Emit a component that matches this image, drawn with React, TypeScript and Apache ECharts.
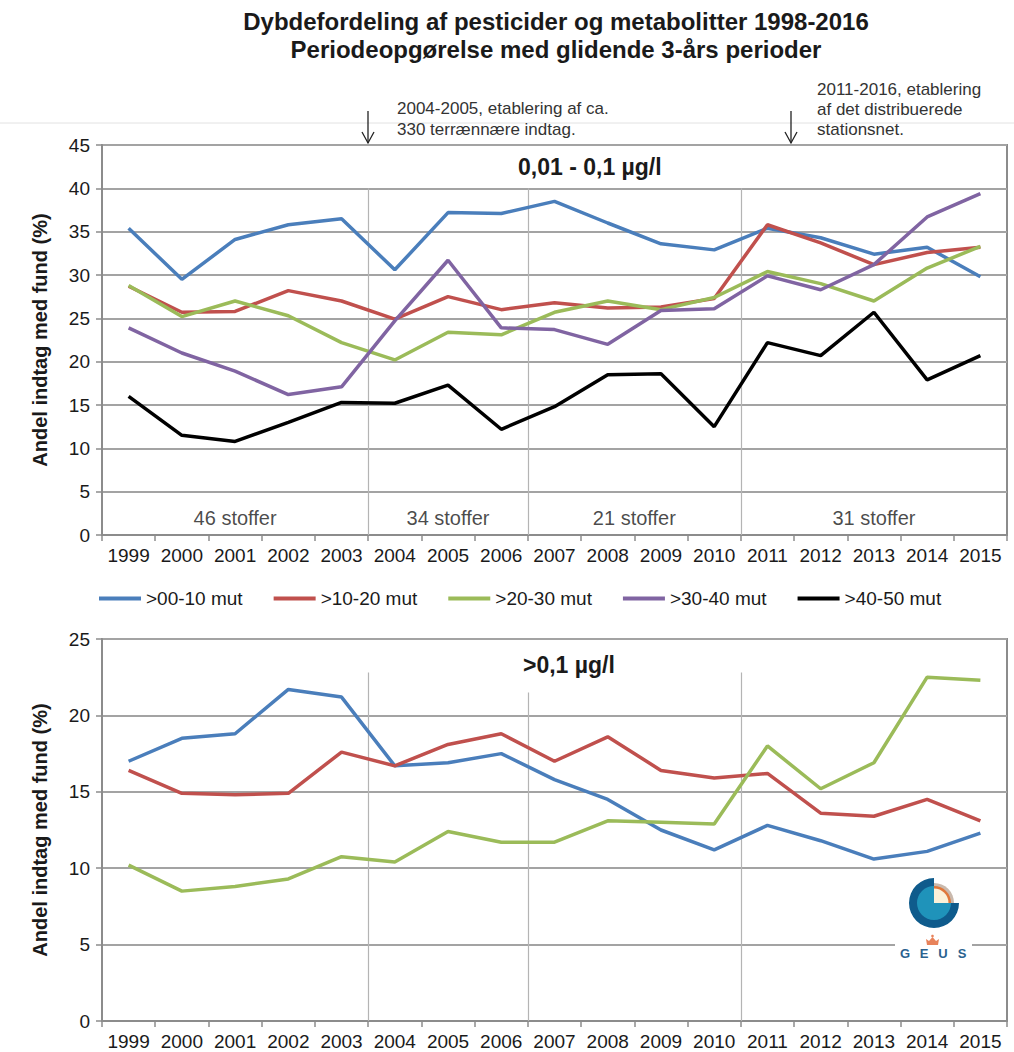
import React, { useEffect, useRef } from "react";
import * as echarts from "echarts";

const years = ["1999","2000","2001","2002","2003","2004","2005","2006","2007","2008","2009","2010","2011","2012","2013","2014","2015"];

const seriesNames = [">00-10 mut", ">10-20 mut", ">20-30 mut", ">30-40 mut", ">40-50 mut"];
const seriesColors = ["#4a7ebb", "#c0504d", "#9bbb59", "#8064a2", "#000000"];

// Top panel: 0,01 - 0,1 µg/l
const top00_10 = [35.4, 29.5, 34.1, 35.8, 36.5, 30.6, 37.2, 37.1, 38.5, 36.0, 33.6, 32.9, 35.4, 34.3, 32.4, 33.2, 29.8];
const top10_20 = [28.7, 25.7, 25.8, 28.2, 27.0, 24.9, 27.5, 26.0, 26.8, 26.2, 26.3, 27.3, 35.8, 33.7, 31.2, 32.6, 33.2];
const top20_30 = [28.8, 25.2, 27.0, 25.3, 22.2, 20.2, 23.4, 23.1, 25.7, 27.0, 26.0, 27.4, 30.4, 29.0, 27.0, 30.8, 33.3];
const top30_40 = [23.9, 21.0, 18.9, 16.2, 17.1, 24.7, 31.7, 23.9, 23.7, 22.0, 25.9, 26.1, 29.9, 28.3, 31.2, 36.7, 39.4];
const top40_50 = [16.0, 11.5, 10.8, 13.0, 15.3, 15.2, 17.3, 12.2, 14.8, 18.5, 18.6, 12.5, 22.2, 20.7, 25.7, 17.9, 20.7];

// Bottom panel: >0,1 µg/l
const bot00_10 = [17.0, 18.5, 18.8, 21.7, 21.2, 16.7, 16.9, 17.5, 15.8, 14.5, 12.5, 11.2, 12.8, 11.8, 10.6, 11.1, 12.3];
const bot10_20 = [16.4, 14.9, 14.8, 14.9, 17.6, 16.7, 18.1, 18.8, 17.0, 18.6, 16.4, 15.9, 16.2, 13.6, 13.4, 14.5, 13.1];
const bot20_30 = [10.2, 8.5, 8.8, 9.3, 10.75, 10.4, 12.4, 11.7, 11.7, 13.1, 13.0, 12.9, 18.0, 15.2, 16.9, 22.5, 22.3];

const topSeries = [top00_10, top10_20, top20_30, top30_40, top40_50];
const botSeries = [bot00_10, bot10_20, bot20_30];

// Period dividers (category boundary index) and the heights they reach
const dividerPos = [5, 8, 12];
const dividerTopHeights = [40, 40, 40];
const dividerBotHeights = [22.8, 21.5, 22.8];

// Period labels
const periodLabels = ["46 stoffer", "34 stoffer", "21 stoffer", "31 stoffer"];
const periodBounds = [0, 5, 8, 12, 17];

const FONT = "Liberation Sans, Arial, sans-serif";

export default function App() {
  const ref = useRef<HTMLDivElement>(null);

  useEffect(() => {
    if (!ref.current) return;
    const chart = echarts.init(ref.current, null, { renderer: "svg" });

    const gridLeft = 102;
    const gridWidth = 905;

    const catAxis = (gridIndex: number) => ({
      type: "category",
      gridIndex,
      data: years,
      boundaryGap: true,
      axisLine: { show: true, lineStyle: { color: "#8c8c8c", width: 2 } },
      axisTick: { show: true, alignWithLabel: false, interval: 0, length: 6, lineStyle: { color: "#8c8c8c", width: 1.5 } },
      axisLabel: { interval: 0, hideOverlap: false, fontFamily: FONT, fontSize: 19, color: "#1a1a1a", margin: 11 },
      splitLine: { show: false },
    });

    const valAxisHidden = (gridIndex: number) => ({
      type: "value",
      gridIndex,
      min: 0,
      max: 17,
      show: false,
      splitLine: { show: false },
    });

    const yAxis = (gridIndex: number, max: number) => ({
      type: "value",
      gridIndex,
      min: 0,
      max,
      interval: 5,
      name: "Andel indtag med fund (%)",
      nameLocation: "middle",
      nameGap: 52,
      nameTextStyle: { fontFamily: FONT, fontSize: 20, fontWeight: "bold", color: "#1a1a1a" },
      axisLine: { show: true, lineStyle: { color: "#8c8c8c", width: 2 } },
      axisTick: { show: true, length: 6, lineStyle: { color: "#8c8c8c", width: 1.5 } },
      axisLabel: { fontFamily: FONT, fontSize: 19, color: "#1a1a1a", margin: 12 },
      splitLine: { show: true, lineStyle: { color: "#a3a3a3", width: 1.8 } },
    });

    const lineSeries: any[] = [];
    topSeries.forEach((d, i) => {
      lineSeries.push({
        name: seriesNames[i],
        type: "line",
        xAxisIndex: 0,
        yAxisIndex: 0,
        data: d,
        symbol: "none",
        color: seriesColors[i],
        lineStyle: { width: 3.5, color: seriesColors[i] },
        z: 5,
      });
    });
    botSeries.forEach((d, i) => {
      lineSeries.push({
        name: seriesNames[i],
        type: "line",
        xAxisIndex: 1,
        yAxisIndex: 1,
        data: d,
        symbol: "none",
        color: seriesColors[i],
        lineStyle: { width: 3.5, color: seriesColors[i] },
        z: 5,
      });
    });

    const dividerSeries = [
      {
        type: "lines",
        coordinateSystem: "cartesian2d",
        xAxisIndex: 2,
        yAxisIndex: 0,
        silent: true,
        z: 1,
        lineStyle: { color: "#b4b4b4", width: 1.2, opacity: 1 },
        data: dividerPos.map((p, i) => ({ coords: [[p, 0], [p, dividerTopHeights[i]]] })),
      },
      {
        type: "lines",
        coordinateSystem: "cartesian2d",
        xAxisIndex: 3,
        yAxisIndex: 1,
        silent: true,
        z: 1,
        lineStyle: { color: "#b4b4b4", width: 1.2, opacity: 1 },
        data: dividerPos.map((p, i) => ({ coords: [[p, 0], [p, dividerBotHeights[i]]] })),
      },
    ];

    const labelSeries = {
      type: "scatter",
      xAxisIndex: 2,
      yAxisIndex: 0,
      symbolSize: 0,
      silent: true,
      data: periodLabels.map((_, i) => [(periodBounds[i] + periodBounds[i + 1]) / 2, 2]),
      label: {
        show: true,
        position: "inside",
        formatter: (p: any) => periodLabels[p.dataIndex],
        fontFamily: FONT,
        fontSize: 20,
        color: "#1a1a1a",
      },
    };

    const arrow = (x: number) => [
      { type: "line", shape: { x1: x, y1: 111, x2: x, y2: 143 }, style: { stroke: "#222", lineWidth: 1.3 } },
      { type: "polyline", shape: { points: [[x - 6, 132], [x, 143], [x + 6, 132]] }, style: { stroke: "#222", lineWidth: 1.3, fill: null } },
    ];

    const txt = (text: string, x: number, y: number, size: number, bold: boolean, align = "left", color = "#1a1a1a") => ({
      type: "text",
      x,
      y,
      style: {
        text,
        fontFamily: FONT,
        fontSize: size,
        fontWeight: bold ? "bold" : "normal",
        fill: color,
        textAlign: align,
        textVerticalAlign: "middle",
      },
    });

    const logoCx = 934;
    const logoCy = 903;
    const logo = [
      { type: "rect", shape: { x: 895, y: 871, width: 77, height: 102 }, style: { fill: "#ffffff" }, z: 10 },
      { type: "sector", shape: { cx: logoCx, cy: logoCy, r: 25, r0: 0, startAngle: 0, endAngle: Math.PI * 1.5, clockwise: true }, style: { fill: "#0f5b8c" }, z: 11 },
      { type: "sector", shape: { cx: logoCx, cy: logoCy, r: 17, r0: 0, startAngle: 0, endAngle: Math.PI * 1.5, clockwise: true }, style: { fill: "#1f93ba" }, z: 12 },
      { type: "sector", shape: { cx: logoCx, cy: logoCy, r: 20, r0: 0, startAngle: -Math.PI / 2, endAngle: 0, clockwise: true }, style: { fill: "#c9b9ad" }, z: 11 },
      { type: "sector", shape: { cx: logoCx, cy: logoCy, r: 17, r0: 0, startAngle: -Math.PI / 2, endAngle: 0, clockwise: true }, style: { fill: "#e0773a" }, z: 12 },
      { type: "sector", shape: { cx: logoCx, cy: logoCy, r: 14.5, r0: 0, startAngle: -Math.PI / 2, endAngle: 0, clockwise: true }, style: { fill: "#fbf1d8" }, z: 13 },
      {
        type: "polygon",
        shape: { points: [[927, 945], [938, 945], [939, 939], [936, 941], [932.5, 937], [929, 941], [926, 939]] },
        style: { fill: "#e8825a" },
        z: 12,
      },
      { type: "circle", shape: { cx: 932.5, cy: 936, r: 1.3 }, style: { fill: "#e8825a" }, z: 12 },
      ...["G", "E", "U", "S"].map((l, i) => ({
        type: "text",
        x: 905 + i * 19,
        y: 953,
        z: 12,
        style: { text: l, fontFamily: FONT, fontSize: 13, fontWeight: "bold", fill: "#2a628f", textAlign: "center", textVerticalAlign: "middle" },
      })),
    ];

    const option: any = {
      animation: false,
      backgroundColor: "#ffffff",
      textStyle: { fontFamily: FONT },
      grid: [
        { left: gridLeft, top: 145, width: gridWidth, height: 390, show: true, borderColor: "#8c8c8c", borderWidth: 2, backgroundColor: "transparent" },
        { left: gridLeft, top: 639, width: gridWidth, height: 382, show: true, borderColor: "#8c8c8c", borderWidth: 2, backgroundColor: "transparent" },
      ],
      xAxis: [catAxis(0), catAxis(1), valAxisHidden(0), valAxisHidden(1)],
      yAxis: [yAxis(0, 45), yAxis(1, 25)],
      legend: {
        data: seriesNames,
        left: 99,
        top: 589,
        width: 910,
        padding: 0,
        icon: "rect",
        itemWidth: 42,
        itemHeight: 4,
        itemGap: 31,
        textStyle: { fontFamily: FONT, fontSize: 19, color: "#1a1a1a" },
        selectedMode: false,
      },
      series: [...dividerSeries, ...lineSeries, labelSeries],
      graphic: [
        { type: "line", shape: { x1: 0, y1: 123, x2: 1014, y2: 123 }, style: { stroke: "#e2e2e2", lineWidth: 1 } },
        txt("Dybdefordeling af pesticider og metabolitter 1998-2016", 556, 21, 24, true, "center"),
        txt("Periodeopgørelse med glidende 3-års perioder", 556, 49, 24, true, "center"),
        txt("2004-2005, etablering af ca.", 397, 108, 17, false, "left", "#333"),
        txt("330 terrænnære indtag.", 397, 129, 17, false, "left", "#333"),
        txt("2011-2016, etablering", 817, 89, 17, false, "left", "#333"),
        txt("af det distribuerede", 817, 109, 17, false, "left", "#333"),
        txt("stationsnet.", 817, 129, 17, false, "left", "#333"),
        ...arrow(368),
        ...arrow(791),
        txt("0,01 - 0,1 µg/l", 518, 167, 23, true, "left"),
        txt(">0,1 µg/l", 523, 665, 23, true, "left"),
        ...logo,
      ],
    };

    chart.setOption(option);
    return () => chart.dispose();
  }, []);

  return (
    <div
      ref={ref}
      style={{ position: "fixed", left: 0, top: 0, width: 1014, height: 1052, background: "#fff" }}
    />
  );
}
